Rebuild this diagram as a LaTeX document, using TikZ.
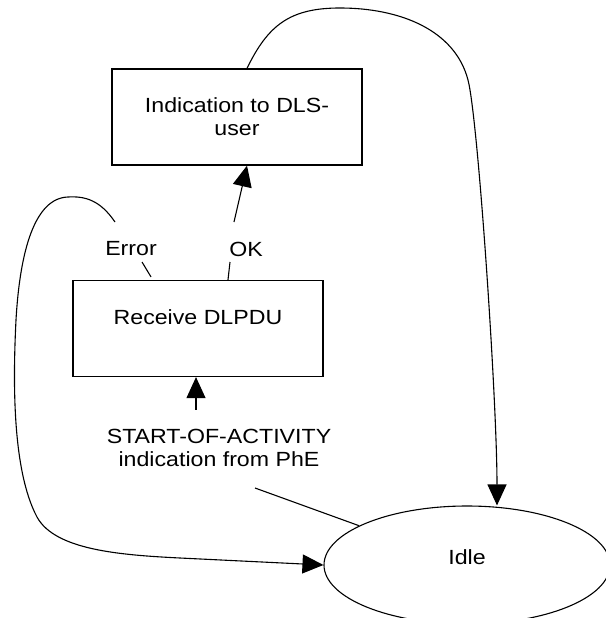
\documentclass[tikz,border=0pt]{standalone}
\usepackage{fontspec}
\setmainfont{Liberation Sans}[FakeStretch=1.13]
\usetikzlibrary{arrows.meta,shapes.geometric}
\tikzset{>={Triangle[width=19pt,length=21pt]}}
\tikzset{
  statebox/.style={draw, line width=1.2pt, minimum width=250pt, minimum height=96pt, inner sep=0pt},
  idlestate/.style={draw, ellipse, line width=1.1pt, minimum width=286pt, minimum height=118pt, inner sep=0pt},
  txt/.style={align=center, inner sep=0pt, font=\fontsize{20.5}{23}\selectfont},
  trans/.style={line width=1.1pt}
}

\begin{document}
\begin{tikzpicture}[x=1pt,y=-1pt]

  \useasboundingbox (0,0) rectangle (605,618);

  \node[statebox] (ind) at (237,117) {};
  \node[txt] (indtxt) at (ind.center) {Indication to DLS-\\user};

  \node[statebox] (rcv) at (198,328.5) {};
  \node[txt] (rcvtxt) at ([yshift=11.5pt]rcv.center) {Receive DLPDU};

  \node[idlestate] (idle) at (467,565) {};
  \node[txt] (idletxt) at ([yshift=8pt]idle.center) {Idle};

  \node[txt] (err) at (131,249) {Error};
  \node[txt] (ok) at (246,249) {OK};
  \node[txt] (start) at (219,447.5) {START-OF-ACTIVITY\\indication from PhE};

  %% rcv -> ind (OK)
  \draw[trans] ([xshift=30pt]rcv.north) -- ([xshift=-16pt,yshift=-13pt]ok.center);
  \draw[trans,->] ([xshift=-12pt,yshift=27pt]ok.center) -- ([xshift=10pt]ind.south);

  %% rcv -> idle (Error)
  \draw[trans] ([xshift=-47pt,yshift=3pt]rcv.north) -- ([xshift=11pt,yshift=-13pt]err.center);
  \draw[trans,->] ([xshift=-16pt,yshift=27pt]err.center)
    .. controls (100,200) and (85,196) .. (68,197)
    .. controls (35,198) and (20,250) .. (16,320)
    .. controls (13,380) and (12,470) .. (37,517)
    .. controls (55,550) and (120,555) .. (180,558) -- (idle.west);

  %% ind -> idle
  \draw[trans,->] ([xshift=10pt]ind.north)
    .. controls (268,25) and (290,8) .. (340,8)
    .. controls (400,8) and (455,30) .. (468,80)
    .. controls (478,118) and (497,400) .. ([xshift=30pt]idle.north);

  %% idle -> rcv (START-OF-ACTIVITY)
  \draw[trans] (idle.160) -- ([xshift=36pt,yshift=-40.5pt]start.center);
  \draw[trans,->] ([xshift=-23pt,yshift=38pt]start.center) -- ([xshift=-2pt]rcv.south);

\end{tikzpicture}
\end{document}
